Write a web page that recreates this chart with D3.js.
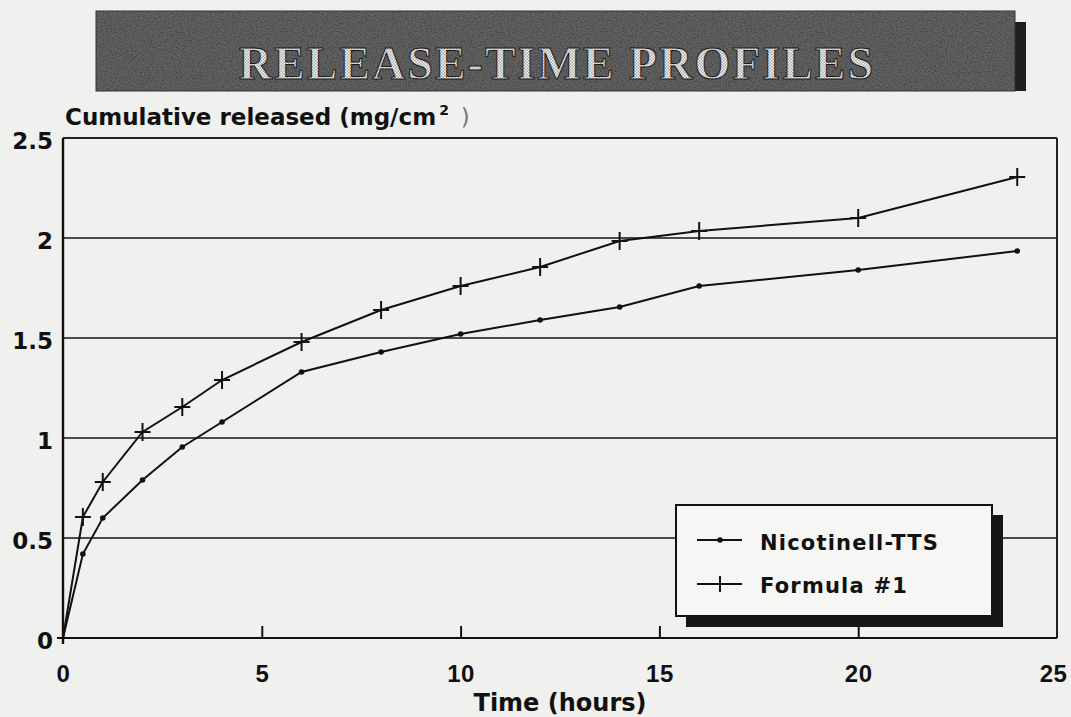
<!DOCTYPE html>
<html><head><meta charset="utf-8">
<script src="https://cdn.jsdelivr.net/npm/d3@7"></script>
<style>
html,body{margin:0;padding:0;background:#f0f0ee;}
svg{display:block;}
</style></head>
<body>
<script>
// ---- data ----
const timeHours = [0, 0.5, 1, 2, 3, 4, 6, 8, 10, 12, 14, 16, 20, 24];
const nicotinellTTS = [0, 0.42, 0.60, 0.79, 0.955, 1.08, 1.33, 1.43, 1.52, 1.59, 1.655, 1.76, 1.84, 1.935];
const formula1 = [0, 0.605, 0.78, 1.03, 1.155, 1.29, 1.48, 1.64, 1.76, 1.855, 1.985, 2.035, 2.10, 2.305];
const xTicks = [0, 5, 10, 15, 20, 25];
const yTicks = [0, 0.5, 1, 1.5, 2, 2.5];
const yTickLabels = ["0", "0.5", "1", "1.5", "2", "2.5"];
const seriesNames = ["Nicotinell-TTS", "Formula #1"];
const titleText = "RELEASE-TIME PROFILES";
const yTitle = "Cumulative released (mg/cm";
const xTitle = "Time (hours)";

const W = 1071, H = 717;
const L = 63, R = 1057, T = 138, B = 638;
const FONT = "'DejaVu Sans', sans-serif";
const FONT2 = "'Liberation Sans', Arial, sans-serif";

const svg = d3.select("body").append("svg").attr("width", W).attr("height", H);
const defs = svg.append("defs");
const f = defs.append("filter").attr("id", "noise").attr("x", 0).attr("y", 0).attr("width", "100%").attr("height", "100%");
f.append("feTurbulence").attr("type", "fractalNoise").attr("baseFrequency", 0.8).attr("numOctaves", 2).attr("seed", 3);
f.append("feColorMatrix").attr("type", "matrix")
  .attr("values", "0 0 0 0 0  0 0 0 0 0  0 0 0 0 0  0 0 0 -2.2 1.3");
const pat = defs.append("pattern").attr("id", "checker").attr("width", 3).attr("height", 3).attr("patternUnits", "userSpaceOnUse");
pat.append("rect").attr("width", 3).attr("height", 3).attr("fill", "#f6f6f6");
pat.append("rect").attr("width", 1.5).attr("height", 1.5).attr("fill", "#a8a8a8");
pat.append("rect").attr("x", 1.5).attr("y", 1.5).attr("width", 1.5).attr("height", 1.5).attr("fill", "#a8a8a8");

svg.append("rect").attr("width", W).attr("height", H).attr("fill", "#f0f0ee");

// ---- title banner ----
svg.append("rect").attr("x", 1003).attr("y", 22).attr("width", 23).attr("height", 69).attr("fill", "#1e1e1e");
svg.append("rect").attr("x", 96).attr("y", 11).attr("width", 919).attr("height", 80).attr("fill", "#626262");
svg.append("rect").attr("x", 96).attr("y", 11).attr("width", 919).attr("height", 80).attr("fill", "#000").attr("filter", "url(#noise)").attr("opacity", 0.35);
svg.append("rect").attr("x", 96).attr("y", 11).attr("width", 919).attr("height", 80).attr("fill", "none").attr("stroke", "#333").attr("stroke-width", 1);
svg.append("text").attr("x", 557).attr("y", 79).attr("text-anchor", "middle")
  .attr("font-family", "'Liberation Serif', 'Times New Roman', serif").attr("font-size", 46)
  .attr("font-weight", "bold").attr("letter-spacing", 2)
  .attr("fill", "url(#checker)").attr("stroke", "#1a1a1a").attr("stroke-width", 1)
  .text(titleText);

// ---- scales ----
const x = d3.scaleLinear().domain([0, 25]).range([L, R]);
const y = d3.scaleLinear().domain([0, 2.5]).range([B, T]);

// gridlines
svg.append("g").selectAll("line").data(yTicks.filter(v => v > 0 && v < 2.5)).join("line")
  .attr("x1", L).attr("x2", R).attr("y1", d => y(d)).attr("y2", d => y(d))
  .attr("stroke", "#4a4a4a").attr("stroke-width", 1.8);

// frame
svg.append("line").attr("x1", x(0)).attr("x2", x(25)).attr("y1", y(2.5)).attr("y2", y(2.5)).attr("stroke", "#222").attr("stroke-width", 2);
svg.append("line").attr("x1", x(25)).attr("x2", x(25)).attr("y1", y(2.5)).attr("y2", y(0)).attr("stroke", "#222").attr("stroke-width", 2);

// x axis (ticks inward)
const xAxis = d3.axisBottom(x).tickValues(xTicks).tickSize(0).tickFormat(d3.format("d"));
const gx = svg.append("g").attr("transform", `translate(0,${B})`).call(xAxis);
gx.select(".domain").attr("stroke", "#111").attr("stroke-width", 2.2).attr("d", `M${L - 6},0H${R}`);
gx.selectAll(".tick line").remove();
gx.selectAll(".tick").filter(d => d > 0 && d < 25).append("line").attr("y1", 0).attr("y2", -12).attr("stroke", "#111").attr("stroke-width", 2);
gx.selectAll(".tick text").attr("y", 44).attr("dy", 0).attr("fill", "#111")
  .attr("font-family", FONT2).attr("font-weight", "bold").attr("font-size", 24).attr("letter-spacing", 0.5);
gx.selectAll(".tick").filter(d => d === 25).select("text").attr("dx", -4);

// y axis
const yAxis = d3.axisLeft(y).tickValues(yTicks).tickSize(0).tickFormat((d, i) => yTickLabels[i]);
const gy = svg.append("g").attr("transform", `translate(${L},0)`).call(yAxis);
gy.select(".domain").attr("stroke", "#111").attr("stroke-width", 2.4).attr("d", `M0,${T}V${B + 6}`);
gy.selectAll(".tick text").attr("x", -10).attr("dy", 0).attr("y", 10).attr("fill", "#111")
  .attr("font-family", FONT).attr("font-weight", "bold").attr("font-size", 23);

// axis titles
const yt = svg.append("text").attr("x", 65).attr("y", 125).attr("fill", "#111")
  .attr("font-family", FONT).attr("font-weight", "bold").attr("font-size", 23);
yt.append("tspan").text(yTitle);
yt.append("tspan").attr("font-size", 14).attr("dy", -10).attr("dx", 3).text("2");
yt.append("tspan").attr("dy", 10).attr("font-weight", "normal").attr("fill", "#777").text(" \u2009)");

svg.append("text").attr("x", (L + R) / 2).attr("y", 711).attr("text-anchor", "middle").attr("fill", "#111")
  .attr("font-family", FONT).attr("font-weight", "bold").attr("font-size", 24).text(xTitle);

// ---- series ----
const nicData = timeHours.map((t, i) => ({t, v: nicotinellTTS[i]}));
const forData = timeHours.map((t, i) => ({t, v: formula1[i]}));
const line = d3.line().x(d => x(d.t)).y(d => y(d.v));

svg.append("path").datum(nicData).attr("d", line).attr("fill", "none").attr("stroke", "#111").attr("stroke-width", 2);
svg.append("path").datum(forData).attr("d", line).attr("fill", "none").attr("stroke", "#111").attr("stroke-width", 2);

svg.append("g").selectAll("circle").data(nicData.slice(1)).join("circle")
  .attr("cx", d => x(d.t)).attr("cy", d => y(d.v)).attr("r", 2.8).attr("fill", "#111");

const cross = svg.append("g").selectAll("g").data(forData.slice(1)).join("g")
  .attr("transform", d => `translate(${x(d.t)},${y(d.v)})`);
cross.append("line").attr("x1", -8).attr("x2", 8).attr("stroke", "#111").attr("stroke-width", 2);
cross.append("line").attr("y1", -9).attr("y2", 9).attr("stroke", "#111").attr("stroke-width", 2);

// ---- legend ----
const lg = svg.append("g");
lg.append("rect").attr("x", 686).attr("y", 515).attr("width", 317).attr("height", 112).attr("fill", "#151515");
lg.append("rect").attr("x", 676).attr("y", 505).attr("width", 316).attr("height", 111).attr("fill", "#f6f6f4").attr("stroke", "#111").attr("stroke-width", 2);
const rows = [540, 584];
const baselines = [550, 593];
seriesNames.forEach((name, i) => {
  lg.append("line").attr("x1", 697).attr("x2", 742).attr("y1", rows[i]).attr("y2", rows[i]).attr("stroke", "#111").attr("stroke-width", 2);
  if (i === 0) lg.append("circle").attr("cx", 720).attr("cy", rows[i]).attr("r", 2.8).attr("fill", "#111");
  else lg.append("line").attr("x1", 720).attr("x2", 720).attr("y1", rows[i] - 8).attr("y2", rows[i] + 8).attr("stroke", "#111").attr("stroke-width", 2);
  lg.append("text").attr("x", 760).attr("y", baselines[i]).attr("fill", "#111")
    .attr("font-family", FONT).attr("font-weight", "bold").attr("font-size", 21).attr("letter-spacing", 1.2).text(name);
});
</script>
</body></html>
